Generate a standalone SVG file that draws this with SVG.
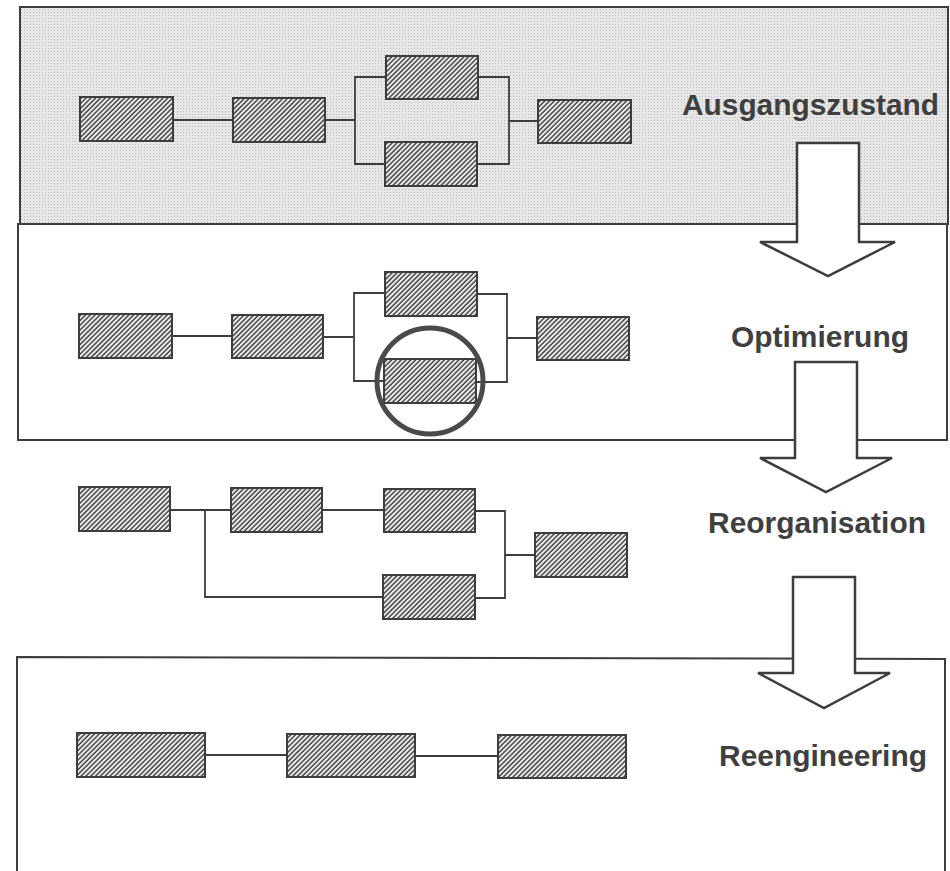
<svg xmlns="http://www.w3.org/2000/svg" width="950" height="871" viewBox="0 0 950 871">
  <defs>
    <pattern id="dots" patternUnits="userSpaceOnUse" width="3" height="3">
      <rect width="3" height="3" fill="#ebebeb"/>
      <rect x="0" y="0" width="1" height="1" fill="#b4b4b4"/>
      <rect x="1.5" y="1.5" width="1" height="1" fill="#cfcfcf"/>
    </pattern>
    <pattern id="hatch" patternUnits="userSpaceOnUse" width="3.4" height="3.4" patternTransform="rotate(45)">
      <rect width="3.4" height="3.4" fill="#ececec"/>
      <line x1="1" y1="0" x2="1" y2="3.4" stroke="#2e2e2e" stroke-width="1.3"/>
    </pattern>
  </defs>
  <style>
    .panel { fill: none; stroke: #3d3d3d; stroke-width: 2; }
    .box { fill: url(#hatch); stroke: #3d3d3d; stroke-width: 2; }
    .conn { fill: none; stroke: #3d3d3d; stroke-width: 1.8; }
    .arrow { fill: #fff; stroke: #3d3d3d; stroke-width: 2.5; stroke-linejoin: miter; }
    .label { font-family: "Liberation Sans", Arial, sans-serif; font-weight: bold; font-size: 30px; fill: #3f3f3f; }
    .focus { fill: none; stroke: #4a4a4a; stroke-width: 5; }
  </style>

  <!-- Panels -->
  <g id="panels">
    <rect id="panel-ausgang" x="20" y="7" width="928" height="217" fill="url(#dots)" stroke="#3d3d3d" stroke-width="2"/>
    <rect id="panel-optimierung" class="panel" x="18" y="224" width="929" height="216"/>
    <path id="panel-reengineering" class="panel" d="M17,880 L17,657 L945,659 L945,880"/>
  </g>

  <!-- Connectors -->
  <g id="connectors">
    <!-- Ausgangszustand -->
    <path class="conn" d="M173,120 H233"/>
    <path class="conn" d="M325,120 H355 M386,77 H355 V164 H385 M478,77 H509 V164 H477 M509,121 H538"/>
    <!-- Optimierung -->
    <path class="conn" d="M172,336 H232"/>
    <path class="conn" d="M323,337 H354 M385,293 H354 V381 H384 M477,294 H507 V382 H476 M507,338 H537"/>
    <!-- Reorganisation -->
    <path class="conn" d="M170,510 H231 M205,510 V597 H383 M322,510 H384 M475,511 H505 V598 H475 M505,555 H535"/>
    <!-- Reengineering -->
    <path class="conn" d="M205,755 H287 M415,756 H498"/>
  </g>

  <!-- Ausgangszustand nodes -->
  <g id="a1"><rect class="box" x="80" y="97" width="93" height="44"/></g>
  <g id="a2"><rect class="box" x="233" y="98" width="92" height="44"/></g>
  <g id="a3"><rect class="box" x="386" y="56" width="92" height="43"/></g>
  <g id="a4"><rect class="box" x="385" y="142" width="92" height="44"/></g>
  <g id="a5"><rect class="box" x="538" y="100" width="93" height="43"/></g>

  <!-- Optimierung nodes -->
  <g id="o1"><rect class="box" x="79" y="314" width="93" height="44"/></g>
  <g id="o2"><rect class="box" x="232" y="315" width="91" height="43"/></g>
  <g id="o3"><rect class="box" x="385" y="272" width="92" height="44"/></g>
  <g id="o4"><rect class="box" x="384" y="359" width="92" height="44"/></g>
  <g id="o5"><rect class="box" x="537" y="317" width="92" height="43"/></g>
  <g id="o-focus"><circle class="focus" cx="430" cy="381" r="53"/></g>

  <!-- Reorganisation nodes -->
  <g id="r1"><rect class="box" x="79" y="487" width="91" height="44"/></g>
  <g id="r2"><rect class="box" x="231" y="488" width="91" height="44"/></g>
  <g id="r3"><rect class="box" x="384" y="489" width="91" height="43"/></g>
  <g id="r4"><rect class="box" x="383" y="575" width="92" height="44"/></g>
  <g id="r5"><rect class="box" x="535" y="533" width="92" height="44"/></g>

  <!-- Reengineering nodes -->
  <g id="e1"><rect class="box" x="77" y="733" width="128" height="44"/></g>
  <g id="e2"><rect class="box" x="287" y="734" width="128" height="43"/></g>
  <g id="e3"><rect class="box" x="498" y="735" width="128" height="43"/></g>

  <!-- Transition arrows -->
  <g id="arrow-1"><path class="arrow" d="M797,143 H859 V242 H895 L828,276 L760,242 H797 Z"/></g>
  <g id="arrow-2"><path class="arrow" d="M795,362 H857 V458 H892 L826,492 L760,458 H795 Z"/></g>
  <g id="arrow-3"><path class="arrow" d="M793,577 H855 V673 H890 L824,708 L758,673 H793 Z"/></g>

  <!-- Labels -->
  <g id="label-ausgangszustand"><text class="label" x="682" y="115" textLength="257" lengthAdjust="spacingAndGlyphs">Ausgangszustand</text></g>
  <g id="label-optimierung"><text class="label" x="731" y="347" textLength="178" lengthAdjust="spacingAndGlyphs">Optimierung</text></g>
  <g id="label-reorganisation"><text class="label" x="708" y="533" textLength="218" lengthAdjust="spacingAndGlyphs">Reorganisation</text></g>
  <g id="label-reengineering"><text class="label" x="719" y="766" textLength="208" lengthAdjust="spacingAndGlyphs">Reengineering</text></g>
</svg>
